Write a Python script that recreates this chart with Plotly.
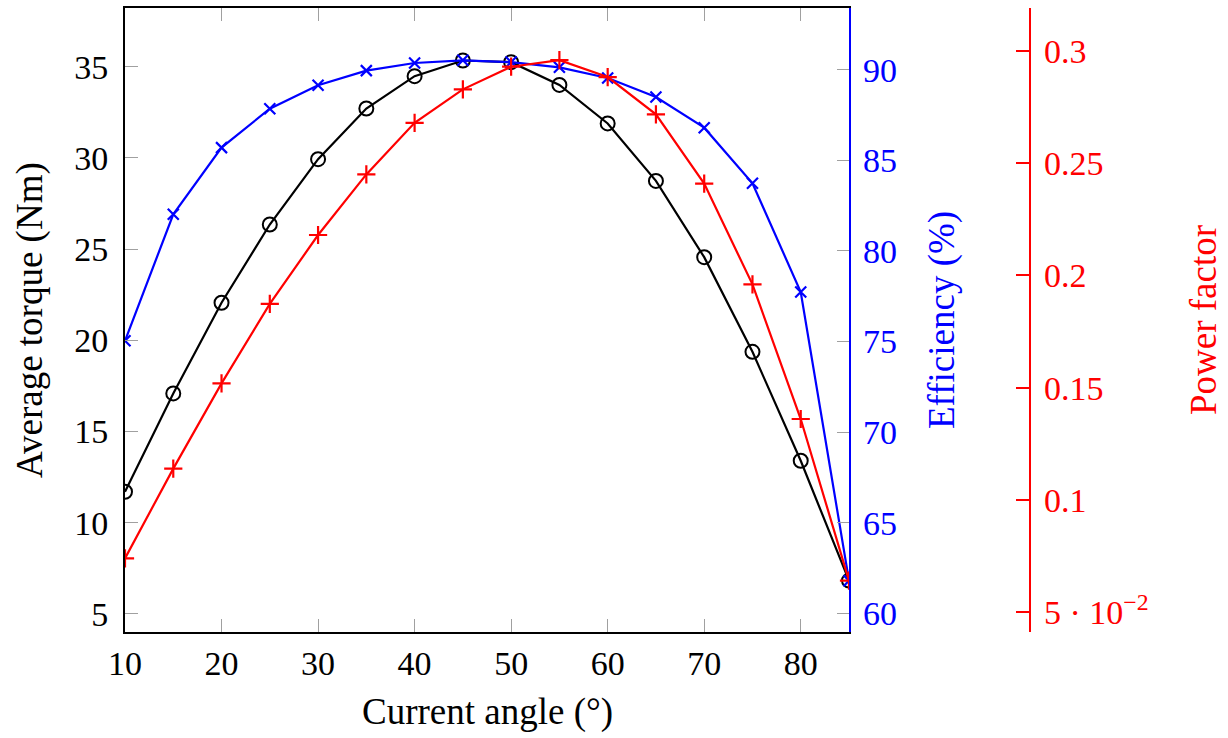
import plotly.graph_objects as go

angle = [10, 15, 20, 25, 30, 35, 40, 45, 50, 55, 60, 65, 70, 75, 80, 85]
torque = [11.70, 17.09, 22.06, 26.35, 29.93, 32.71, 34.48, 35.34, 35.25, 34.0, 31.89, 28.74, 24.56, 19.37, 13.40, 6.83]
efficiency = [75.04, 82.02, 85.70, 87.85, 89.14, 89.95, 90.37, 90.52, 90.42, 90.13, 89.54, 88.49, 86.80, 83.73, 77.73, 61.80]
power_factor = [0.0739, 0.1139, 0.1519, 0.1873, 0.218, 0.245, 0.268, 0.2829, 0.293, 0.2959, 0.2884, 0.2718, 0.2409, 0.196, 0.136, 0.064]

x_ticks = [10, 20, 30, 40, 50, 60, 70, 80]
torque_ticks = [5, 10, 15, 20, 25, 30, 35]
eff_ticks = [60, 65, 70, 75, 80, 85, 90]
pf_ticks = [0.05, 0.1, 0.15, 0.2, 0.25, 0.3]
pf_ticktext = ["5 · 10<sup>−2</sup>", "0.1", "0.15", "0.2", "0.25", "0.3"]

W, H = 1228, 738
FONT = "Liberation Serif"
FS = 34
TFS = 37
BLUE = "#0000ff"
RED = "#ff0000"
GRAY = "#a0a0a0"
LW = 2.2

fig = go.Figure()
fig.add_trace(go.Scatter(x=angle, y=torque, mode="lines+markers", yaxis="y",
                         line=dict(color="black", width=LW),
                         marker=dict(symbol="circle-open", size=14, color="black",
                                     line=dict(width=2, color="black"))))
fig.add_trace(go.Scatter(x=angle, y=efficiency, mode="lines+markers", yaxis="y2",
                         line=dict(color=BLUE, width=LW),
                         marker=dict(symbol="x-thin", size=11, color=BLUE,
                                     line=dict(width=2.2, color=BLUE))))
fig.add_trace(go.Scatter(x=angle, y=power_factor, mode="lines+markers", yaxis="y3",
                         line=dict(color=RED, width=LW),
                         marker=dict(symbol="cross-thin", size=13, color=RED,
                                     line=dict(width=2.2, color=RED))))

x0, x1 = 125 / W, 849 / W
y0, y1 = 1 - 632 / H, 1 - 8 / H

fig.update_layout(
    width=W, height=H,
    margin=dict(l=0, r=0, t=0, b=0, autoexpand=False),
    paper_bgcolor="white", plot_bgcolor="white",
    showlegend=False,
    font=dict(family=FONT, size=FS, color="black"),
    xaxis=dict(domain=[x0, x1], range=[10, 85], tickvals=x_ticks,
               showgrid=False, zeroline=False, automargin=False,
               showline=True, linecolor="black", linewidth=1.8, mirror="ticks",
               ticks="inside", ticklen=13, tickwidth=1.2, tickcolor=GRAY,
               tickfont=dict(family=FONT, size=FS, color="black"),
               ticklabelstandoff=0),
    yaxis=dict(domain=[y0, y1], range=[4.013, 38.218], tickvals=torque_ticks,
               showgrid=False, zeroline=False, automargin=False,
               showline=True, linecolor="black", linewidth=1.8,
               ticks="inside", ticklen=13, tickwidth=1.2, tickcolor=GRAY,
               tickfont=dict(family=FONT, size=FS, color="black"),
               ticklabelstandoff=8),
    yaxis2=dict(overlaying="y", anchor="x", side="right",
                range=[58.968, 93.405], tickvals=eff_ticks,
                showgrid=False, zeroline=False, automargin=False,
                showline=True, linecolor=BLUE, linewidth=2.2,
                ticks="inside", ticklen=12, tickwidth=1.2, tickcolor=GRAY,
                tickfont=dict(family=FONT, size=FS, color=BLUE),
                ticklabelstandoff=5),
    yaxis3=dict(overlaying="y", anchor="free", position=1030 / W, side="right",
                range=[0.04109, 0.31916], tickvals=pf_ticks, ticktext=pf_ticktext,
                showgrid=False, zeroline=False, automargin=False,
                showline=True, linecolor=RED, linewidth=2.2,
                ticks="inside", ticklen=13, tickwidth=2.2, tickcolor=RED,
                tickfont=dict(family=FONT, size=FS, color=RED),
                ticklabelstandoff=6),
)

fig.add_annotation(text="Average torque (Nm)", x=30 / W, y=1 - 320 / H,
                   xref="paper", yref="paper", showarrow=False, textangle=-90,
                   font=dict(family=FONT, size=TFS, color="black"),
                   xanchor="center", yanchor="middle")
fig.add_annotation(text="Current angle (°)", x=487 / W, y=1 - 712 / H,
                   xref="paper", yref="paper", showarrow=False,
                   font=dict(family=FONT, size=TFS, color="black"),
                   xanchor="center", yanchor="middle")
fig.add_annotation(text="Efficiency (%)", x=942 / W, y=1 - 320 / H,
                   xref="paper", yref="paper", showarrow=False, textangle=-90,
                   font=dict(family=FONT, size=TFS, color=BLUE),
                   xanchor="center", yanchor="middle")
fig.add_annotation(text="Power factor", x=1203 / W, y=1 - 320 / H,
                   xref="paper", yref="paper", showarrow=False, textangle=-90,
                   font=dict(family=FONT, size=TFS, color=RED),
                   xanchor="center", yanchor="middle")

fig.write_html("out.html")
